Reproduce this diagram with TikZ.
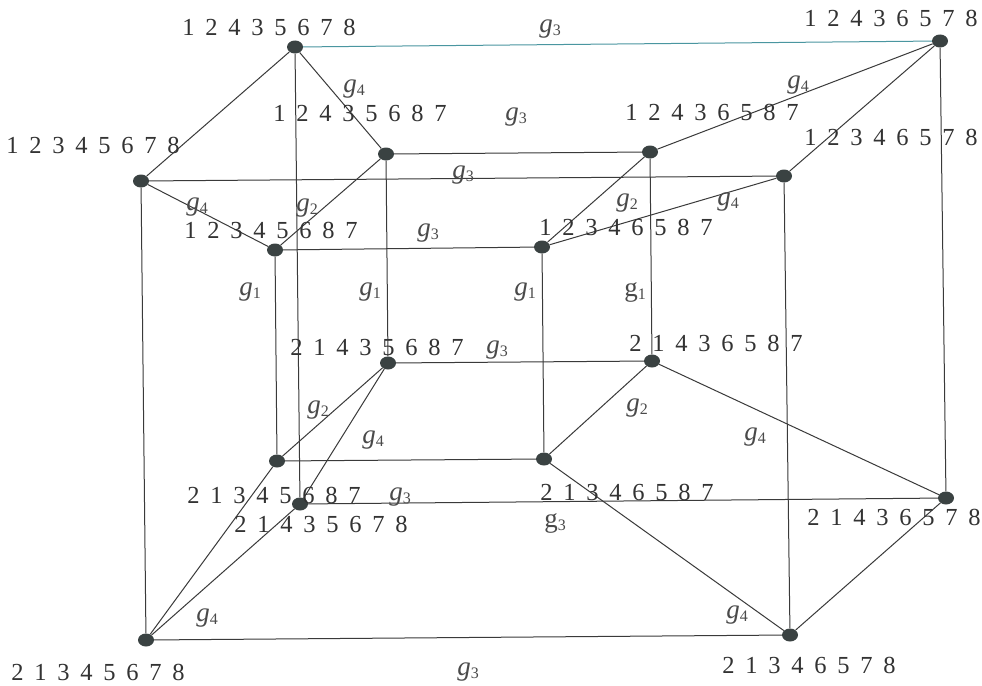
\documentclass[tikz,border=0pt]{standalone}
\usepackage{fontspec}
\setmainfont{Liberation Serif}[WordSpace=1.75]
\usetikzlibrary{shapes.geometric}
\definecolor{linec}{HTML}{3A3A3A}
\definecolor{dotc}{HTML}{3A4242}
\definecolor{tealc}{HTML}{4A96A0}
\definecolor{txtc}{HTML}{333333}
\definecolor{gc}{HTML}{4A4A4A}
\newcommand{\gl}[1]{\textit{g}\raisebox{-0.25ex}{\fontsize{16}{16}\selectfont #1}}
\newcommand{\gu}[1]{g\raisebox{-0.25ex}{\fontsize{16}{16}\selectfont #1}}
\begin{document}
\begin{tikzpicture}[x=1pt,y=-1pt,
  vtx/.style={ellipse, fill=dotc, draw=none, minimum width=16pt, minimum height=13pt, inner sep=0pt},
  edge/.style={draw=linec, line width=1pt},
  lab/.style={font=\fontsize{24.5}{24.5}\selectfont, inner sep=0pt, text=txtc},
  glab/.style={font=\fontsize{27}{27}\selectfont, inner sep=0pt, text=gc}]
\useasboundingbox[fill=white] (0,0) rectangle (982,685);
% outer cube
\node[vtx] (A) at (295,47) {};
\node[vtx] (B) at (940,41) {};
\node[vtx] (C) at (141,181) {};
\node[vtx] (D) at (784,176) {};
\node[vtx] (E) at (300,504) {};
\node[vtx] (F) at (946,498) {};
\node[vtx] (G) at (146,640) {};
\node[vtx] (H) at (790,635) {};
% inner cube
\node[vtx] (a) at (386,154) {};
\node[vtx] (b) at (650,152) {};
\node[vtx] (c) at (275,250) {};
\node[vtx] (d) at (542,247) {};
\node[vtx] (e) at (388,363) {};
\node[vtx] (f) at (652,361) {};
\node[vtx] (g) at (277,461) {};
\node[vtx] (h) at (544,459) {};
% edges
\draw[draw=tealc, line width=1pt] (A) -- (B);
\draw[edge] (A) -- (C);
\draw[edge] (A) -- (a);
\draw[edge] (A) -- (E);
\draw[edge] (B) -- (b);
\draw[edge] (B) -- (D);
\draw[edge] (B) -- (F);
\draw[edge] (C) -- (D);
\draw[edge] (C) -- (c);
\draw[edge] (C) -- (G);
\draw[edge] (D) -- (d);
\draw[edge] (D) -- (H);
\draw[edge] (a) -- (b);
\draw[edge] (a) -- (c);
\draw[edge] (a) -- (e);
\draw[edge] (b) -- (d);
\draw[edge] (b) -- (f);
\draw[edge] (c) -- (d);
\draw[edge] (c) -- (g);
\draw[edge] (d) -- (h);
\draw[edge] (e) -- (f);
\draw[edge] (e) -- (g);
\draw[edge] (e) -- (E);
\draw[edge] (f) -- (h);
\draw[edge] (f) -- (F);
\draw[edge] (g) -- (h);
\draw[edge] (g) -- (G);
\draw[edge] (h) -- (H);
\draw[edge] (E) -- (F);
\draw[edge] (E) -- (G);
\draw[edge] (F) -- (H);
\draw[edge] (G) -- (H);
% vertex labels
\node[lab] (lA) at (269,27) {1 2 4 3 5 6 7 8};
\node[lab] (lB) at (891,18) {1 2 4 3 6 5 7 8};
\node[lab] (lC) at (93,145) {1 2 3 4 5 6 7 8};
\node[lab] (lD) at (891,137) {1 2 3 4 6 5 7 8};
\node[lab] (la) at (360,113) {1 2 4 3 5 6 8 7};
\node[lab] (lb) at (712,112) {1 2 4 3 6 5 8 7};
\node[lab] (lc) at (271,230) {1 2 3 4 5 6 8 7};
\node[lab] (ld) at (626,227) {1 2 3 4 6 5 8 7};
\node[lab] (le) at (377,347) {2 1 4 3 5 6 8 7};
\node[lab] (lf) at (716,343) {2 1 4 3 6 5 8 7};
\node[lab] (lg) at (274,495) {2 1 3 4 5 6 8 7};
\node[lab] (lh) at (627,492) {2 1 3 4 6 5 8 7};
\node[lab] (lE) at (321,524) {2 1 4 3 5 6 7 8};
\node[lab] (lF) at (894,517) {2 1 4 3 6 5 7 8};
\node[lab] (lG) at (98,672) {2 1 3 4 5 6 7 8};
\node[lab] (lH) at (809,665) {2 1 3 4 6 5 7 8};
% generator labels
\node[glab] (g01) at (550,29) {\gl{3}};
\node[glab] (g02) at (354,89) {\gl{4}};
\node[glab] (g03) at (516,117) {\gl{3}};
\node[glab] (g04) at (798,85) {\gl{4}};
\node[glab] (g05) at (463,175) {\gl{3}};
\node[glab] (g06) at (197,207) {\gl{4}};
\node[glab] (g07) at (307,208) {\gl{2}};
\node[glab] (g08) at (627,203) {\gl{2}};
\node[glab] (g09) at (728,202) {\gl{4}};
\node[glab] (g10) at (428,233) {\gl{3}};
\node[glab] (g11) at (250,292) {\gl{1}};
\node[glab] (g12) at (370,292) {\gl{1}};
\node[glab] (g13) at (525,292) {\gl{1}};
\node[glab] (g14) at (635,292) {\gu{1}};
\node[glab] (g15) at (497,350) {\gl{3}};
\node[glab] (g16) at (318,410) {\gl{2}};
\node[glab] (g17) at (637,408) {\gl{2}};
\node[glab] (g18) at (373,440) {\gl{4}};
\node[glab] (g19) at (755,437) {\gl{4}};
\node[glab] (g20) at (400,497) {\gl{3}};
\node[glab] (g21) at (555,523) {\gu{3}};
\node[glab] (g22) at (207,618) {\gl{4}};
\node[glab] (g23) at (737,615) {\gl{4}};
\node[glab] (g24) at (468,672) {\gl{3}};
\end{tikzpicture}
\end{document}
